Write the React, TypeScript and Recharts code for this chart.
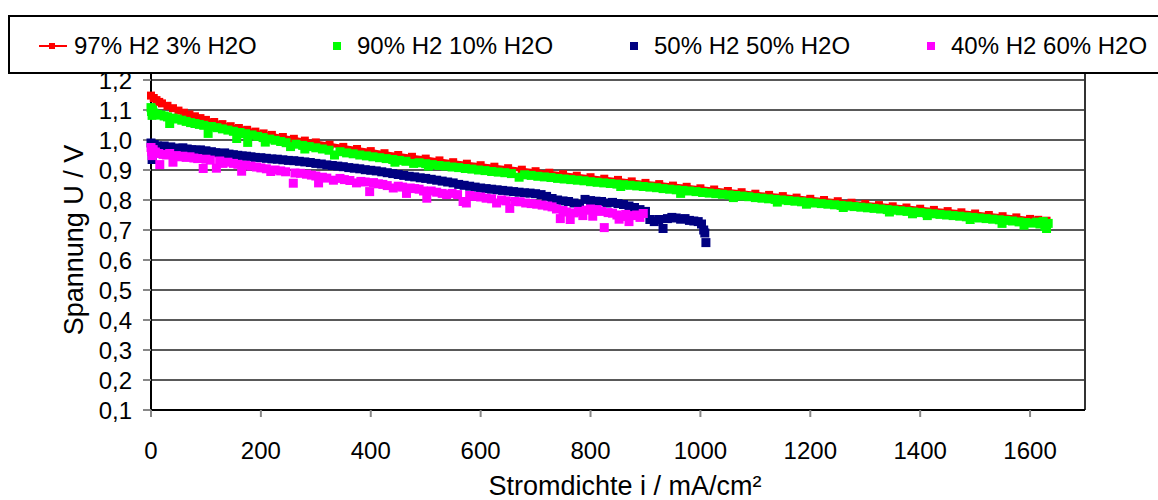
import React from "react"
import {
  ScatterChart,
  Scatter,
  XAxis,
  YAxis,
  CartesianGrid,
  ReferenceLine,
} from "recharts"

// Stromdichte (mA/cm²) / Spannung (V) pairs
const h2o3: [number, number][] = [
  [0, 1.148], [5, 1.140], [10, 1.133], [15, 1.127], [20, 1.122], [30, 1.114], [40, 1.106],
  [50, 1.098], [60, 1.091], [70, 1.085], [80, 1.079], [90, 1.073], [100, 1.067], [115, 1.060],
  [130, 1.053], [145, 1.046], [160, 1.040], [175, 1.034], [190, 1.028], [205, 1.022], [220, 1.017],
  [240, 1.010], [260, 1.004], [280, 0.998], [300, 0.992], [325, 0.984], [350, 0.977], [375, 0.970],
  [400, 0.963], [425, 0.956], [450, 0.950], [475, 0.944], [500, 0.938], [525, 0.932], [550, 0.926],
  [575, 0.921], [600, 0.916], [625, 0.911], [650, 0.906], [675, 0.901], [700, 0.896], [725, 0.891],
  [750, 0.886], [775, 0.881], [800, 0.876], [825, 0.871], [850, 0.867], [875, 0.862], [900, 0.857],
  [925, 0.853], [950, 0.848], [975, 0.844], [1000, 0.839], [1025, 0.835], [1050, 0.830], [1075, 0.826],
  [1100, 0.821], [1125, 0.817], [1150, 0.813], [1175, 0.808], [1200, 0.804], [1225, 0.800], [1250, 0.796],
  [1275, 0.791], [1300, 0.787], [1325, 0.783], [1350, 0.779], [1375, 0.775], [1400, 0.771], [1425, 0.767],
  [1450, 0.763], [1475, 0.759], [1500, 0.755], [1525, 0.750], [1550, 0.746], [1575, 0.742], [1600, 0.737],
  [1615, 0.734], [1630, 0.731],
]

const h2o10: [number, number][] = [
  [0, 1.108], [1, 1.095], [2, 1.082], [3, 1.100], [5, 1.090], [8, 1.086], [12, 1.085], [18, 1.083],
  [24, 1.080], [30, 1.077], [34, 1.055], [40, 1.073], [48, 1.070], [56, 1.066], [64, 1.062], [72, 1.058],
  [80, 1.055], [88, 1.052], [96, 1.049], [104, 1.022], [110, 1.045], [120, 1.041], [130, 1.037],
  [140, 1.033], [150, 1.029], [156, 1.005], [162, 1.025], [172, 1.021], [176, 0.992], [184, 1.017],
  [194, 1.012], [204, 1.008], [208, 0.993], [216, 1.003], [226, 0.999], [236, 0.995], [246, 0.991],
  [254, 0.978], [264, 0.986], [276, 0.982], [280, 0.970], [288, 0.978], [300, 0.974], [312, 0.970],
  [324, 0.966], [334, 0.950], [344, 0.961], [356, 0.957], [368, 0.954], [380, 0.950], [392, 0.947],
  [404, 0.944], [416, 0.941], [428, 0.938], [440, 0.935], [444, 0.926], [452, 0.932], [464, 0.929],
  [478, 0.922], [488, 0.924], [500, 0.921], [505, 0.913], [512, 0.918], [524, 0.915], [536, 0.913],
  [548, 0.910], [560, 0.908], [572, 0.905], [584, 0.903], [596, 0.900], [608, 0.898], [620, 0.895],
  [632, 0.893], [644, 0.891], [656, 0.888], [670, 0.876], [680, 0.884], [692, 0.882], [704, 0.879],
  [716, 0.877], [728, 0.875], [740, 0.872], [752, 0.870], [764, 0.868], [776, 0.866], [788, 0.864],
  [800, 0.861], [812, 0.859], [824, 0.857], [836, 0.855], [848, 0.853], [855, 0.845], [860, 0.851],
  [872, 0.849], [884, 0.847], [896, 0.845], [908, 0.843], [920, 0.841], [932, 0.838], [944, 0.836],
  [956, 0.834], [964, 0.822], [968, 0.832], [980, 0.830], [992, 0.828], [1004, 0.825], [1016, 0.823],
  [1028, 0.821], [1040, 0.819], [1052, 0.817], [1060, 0.808], [1064, 0.815], [1076, 0.813], [1088, 0.811],
  [1100, 0.808], [1112, 0.806], [1124, 0.804], [1136, 0.802], [1140, 0.793], [1148, 0.800], [1160, 0.798],
  [1172, 0.796], [1184, 0.794], [1193, 0.786], [1196, 0.792], [1208, 0.790], [1220, 0.788], [1232, 0.786],
  [1244, 0.784], [1256, 0.782], [1260, 0.775], [1268, 0.780], [1280, 0.778], [1292, 0.776], [1304, 0.774],
  [1316, 0.772], [1328, 0.770], [1340, 0.768], [1344, 0.760], [1352, 0.766], [1364, 0.764], [1376, 0.762],
  [1386, 0.754], [1388, 0.760], [1400, 0.758], [1412, 0.756], [1413, 0.748], [1424, 0.754], [1436, 0.752],
  [1448, 0.750], [1460, 0.748], [1472, 0.746], [1484, 0.744], [1491, 0.735], [1496, 0.742], [1508, 0.740],
  [1520, 0.738], [1532, 0.736], [1544, 0.734], [1549, 0.722], [1556, 0.732], [1568, 0.730], [1580, 0.727],
  [1589, 0.716], [1592, 0.725], [1604, 0.723], [1612, 0.726], [1618, 0.720], [1624, 0.728], [1627, 0.712],
  [1630, 0.705], [1633, 0.722],
]

const h2o50: [number, number][] = [
  [0, 0.990], [1, 0.978], [2, 0.935], [3, 0.982], [6, 0.985], [12, 0.980], [18, 0.978], [24, 0.980],
  [30, 0.975], [36, 0.977], [42, 0.973], [50, 0.972], [58, 0.974], [66, 0.970], [74, 0.968], [82, 0.966],
  [90, 0.967], [100, 0.964], [110, 0.961], [118, 0.958], [126, 0.955], [134, 0.957], [142, 0.953],
  [150, 0.951], [158, 0.949], [166, 0.947], [174, 0.946], [182, 0.944], [190, 0.942], [200, 0.941],
  [210, 0.939], [220, 0.937], [230, 0.936], [240, 0.934], [250, 0.932], [260, 0.931], [270, 0.929],
  [280, 0.927], [290, 0.925], [300, 0.922], [310, 0.920], [320, 0.917], [330, 0.915], [340, 0.913],
  [350, 0.911], [360, 0.908], [370, 0.906], [380, 0.904], [390, 0.901], [400, 0.899], [410, 0.897],
  [420, 0.894], [430, 0.891], [440, 0.888], [450, 0.885], [460, 0.882], [470, 0.879], [480, 0.877],
  [490, 0.874], [500, 0.872], [510, 0.869], [520, 0.866], [530, 0.863], [540, 0.860], [550, 0.857],
  [560, 0.852], [570, 0.849], [580, 0.846], [590, 0.843], [600, 0.840], [610, 0.838], [620, 0.836],
  [630, 0.834], [640, 0.832], [650, 0.830], [660, 0.828], [670, 0.826], [680, 0.824], [690, 0.823],
  [700, 0.821], [710, 0.818], [720, 0.812], [730, 0.805], [740, 0.800], [750, 0.797], [760, 0.795],
  [770, 0.790], [780, 0.786], [790, 0.802], [800, 0.798], [810, 0.796], [820, 0.795], [830, 0.790],
  [840, 0.792], [850, 0.788], [860, 0.785], [870, 0.780], [880, 0.775], [890, 0.768], [900, 0.762],
  [908, 0.735], [916, 0.728], [924, 0.735], [932, 0.705], [940, 0.738], [948, 0.742], [956, 0.740],
  [964, 0.736], [972, 0.738], [980, 0.732], [988, 0.730], [996, 0.728], [1002, 0.720], [1006, 0.700],
  [1008, 0.690], [1010, 0.658],
]

const h2o60: [number, number][] = [
  [0, 0.975], [1, 0.962], [2, 0.948], [4, 0.968], [8, 0.960], [14, 0.955], [16, 0.918], [22, 0.952],
  [28, 0.950], [34, 0.955], [40, 0.926], [46, 0.948], [52, 0.944], [58, 0.946], [64, 0.942], [71, 0.944],
  [78, 0.940], [85, 0.938], [95, 0.905], [100, 0.936], [108, 0.933], [119, 0.906], [125, 0.930],
  [131, 0.922], [140, 0.926], [150, 0.922], [158, 0.919], [165, 0.896], [172, 0.916], [182, 0.913],
  [192, 0.910], [200, 0.907], [210, 0.904], [218, 0.895], [226, 0.900], [236, 0.897], [245, 0.894],
  [259, 0.856], [262, 0.890], [272, 0.889], [283, 0.886], [292, 0.883], [300, 0.880], [305, 0.857],
  [312, 0.876], [320, 0.873], [332, 0.866], [344, 0.872], [352, 0.868], [362, 0.865], [374, 0.857],
  [382, 0.862], [390, 0.860], [398, 0.828], [405, 0.858], [414, 0.854], [422, 0.852], [430, 0.848],
  [441, 0.840], [450, 0.846], [458, 0.843], [465, 0.822], [472, 0.840], [480, 0.838], [488, 0.836],
  [496, 0.830], [502, 0.806], [510, 0.830], [520, 0.826], [530, 0.822], [538, 0.818], [548, 0.822],
  [558, 0.818], [568, 0.795], [574, 0.790], [580, 0.815], [590, 0.812], [600, 0.810], [610, 0.806],
  [620, 0.804], [629, 0.790], [638, 0.800], [646, 0.797], [653, 0.772], [662, 0.795], [672, 0.794],
  [682, 0.790], [692, 0.788], [702, 0.786], [712, 0.783], [722, 0.780], [730, 0.777], [738, 0.770],
  [745, 0.738], [750, 0.765], [756, 0.760], [763, 0.735], [770, 0.757], [778, 0.762], [786, 0.748],
  [792, 0.766], [800, 0.770], [804, 0.746], [812, 0.768], [820, 0.762], [825, 0.708], [832, 0.758],
  [840, 0.756], [848, 0.750], [852, 0.736], [858, 0.745], [864, 0.752], [870, 0.728], [876, 0.748],
  [884, 0.750], [890, 0.742], [896, 0.755],
]

const xTicks = [0, 200, 400, 600, 800, 1000, 1200, 1400, 1600]
const yTicks = [0.1, 0.2, 0.3, 0.4, 0.5, 0.6, 0.7, 0.8, 0.9, 1.0, 1.1, 1.2]

const series = [
  { name: "97% H2 3% H2O", color: "#ff0000", data: h2o3, line: true, size: 8 },
  { name: "90% H2 10% H2O", color: "#00ff00", data: h2o10, line: false, size: 9 },
  { name: "50% H2 50% H2O", color: "#000080", data: h2o50, line: false, size: 9 },
  { name: "40% H2 60% H2O", color: "#ff00ff", data: h2o60, line: false, size: 9 },
]

const legendPos = [74, 357, 654, 951]

const FONT = "'Liberation Sans', Arial, sans-serif"

const toPoints = (arr: [number, number][]) => arr.map(([x, y]) => ({ x, y }))

const square = (color: string, s: number) => (props: any) => (
  <rect x={props.cx - s / 2} y={props.cy - s / 2} width={s} height={s} fill={color} />
)

export default function App() {
  return (
    <div
      style={{
        position: "absolute",
        left: 0,
        top: 0,
        width: 1158,
        height: 500,
        overflow: "hidden",
        background: "#fff",
        fontFamily: FONT,
      }}
    >
      <ScatterChart
        width={1158}
        height={500}
        margin={{ top: 50, right: 73, bottom: 0, left: 0 }}
        style={{ fontFamily: FONT }}
      >
        <CartesianGrid vertical={false} stroke="#222" strokeWidth={1.5} />
        <XAxis
          type="number"
          dataKey="x"
          domain={[0, 1700]}
          ticks={xTicks}
          interval={0}
          height={90}
          axisLine={{ stroke: "#000", strokeWidth: 2 }}
          tickLine={{ stroke: "#888", strokeWidth: 2 }}
          tickSize={7}
          tickMargin={25}
          tick={{ fill: "#000", fontSize: 24 }}
          label={{
            content: () => (
              <text x={625} y={495} textAnchor="middle" fontSize={27} fill="#000">
                Stromdichte i / mA/cm²
              </text>
            ),
          }}
        />
        <YAxis
          type="number"
          dataKey="y"
          domain={[0.1, 1.3]}
          ticks={yTicks}
          interval={0}
          width={151}
          axisLine={{ stroke: "#000", strokeWidth: 2 }}
          tickLine={{ stroke: "#888", strokeWidth: 2 }}
          tickSize={8}
          tickMargin={11}
          tick={{ fill: "#000", fontSize: 24 }}
          tickFormatter={(v: number) => v.toFixed(1).replace(".", ",")}
          label={{
            content: () => (
              <text
                x={74}
                y={240}
                transform="rotate(-90 74 240)"
                textAnchor="middle"
                dominantBaseline="central"
                fontSize={27}
                fill="#000"
              >
                Spannung U / V
              </text>
            ),
          }}
        />
        <ReferenceLine x={1700} stroke="#333" strokeWidth={2} />
        {series.map((s) => (
          <Scatter
            key={s.name}
            name={s.name}
            data={toPoints(s.data)}
            fill={s.color}
            shape={square(s.color, s.size)}
            line={s.line ? { stroke: s.color, strokeWidth: 4 } : false}
            lineType="joint"
            isAnimationActive={false}
          />
        ))}
      </ScatterChart>

      <div
        style={{
          position: "absolute",
          left: 8,
          top: 15,
          width: 1200,
          height: 55,
          border: "2px solid #000",
          background: "#fff",
          fontSize: 24,
          color: "#000",
        }}
      >
        {series.map((s, i) => (
          <div
            key={s.name}
            style={{
              position: "absolute",
              left: legendPos[i] - 10,
              top: 15,
              lineHeight: "28px",
              whiteSpace: "nowrap",
            }}
          >
            {s.line && (
              <span
                style={{
                  position: "absolute",
                  left: -35,
                  top: 13,
                  width: 28,
                  height: 2,
                  background: s.color,
                }}
              />
            )}
            <span
              style={{
                position: "absolute",
                left: s.line ? -25 : -24,
                top: s.line ? 11 : 10,
                width: s.line ? 6 : 8,
                height: s.line ? 6 : 8,
                background: s.color,
              }}
            />
            {s.name}
          </div>
        ))}
      </div>
    </div>
  )
}
